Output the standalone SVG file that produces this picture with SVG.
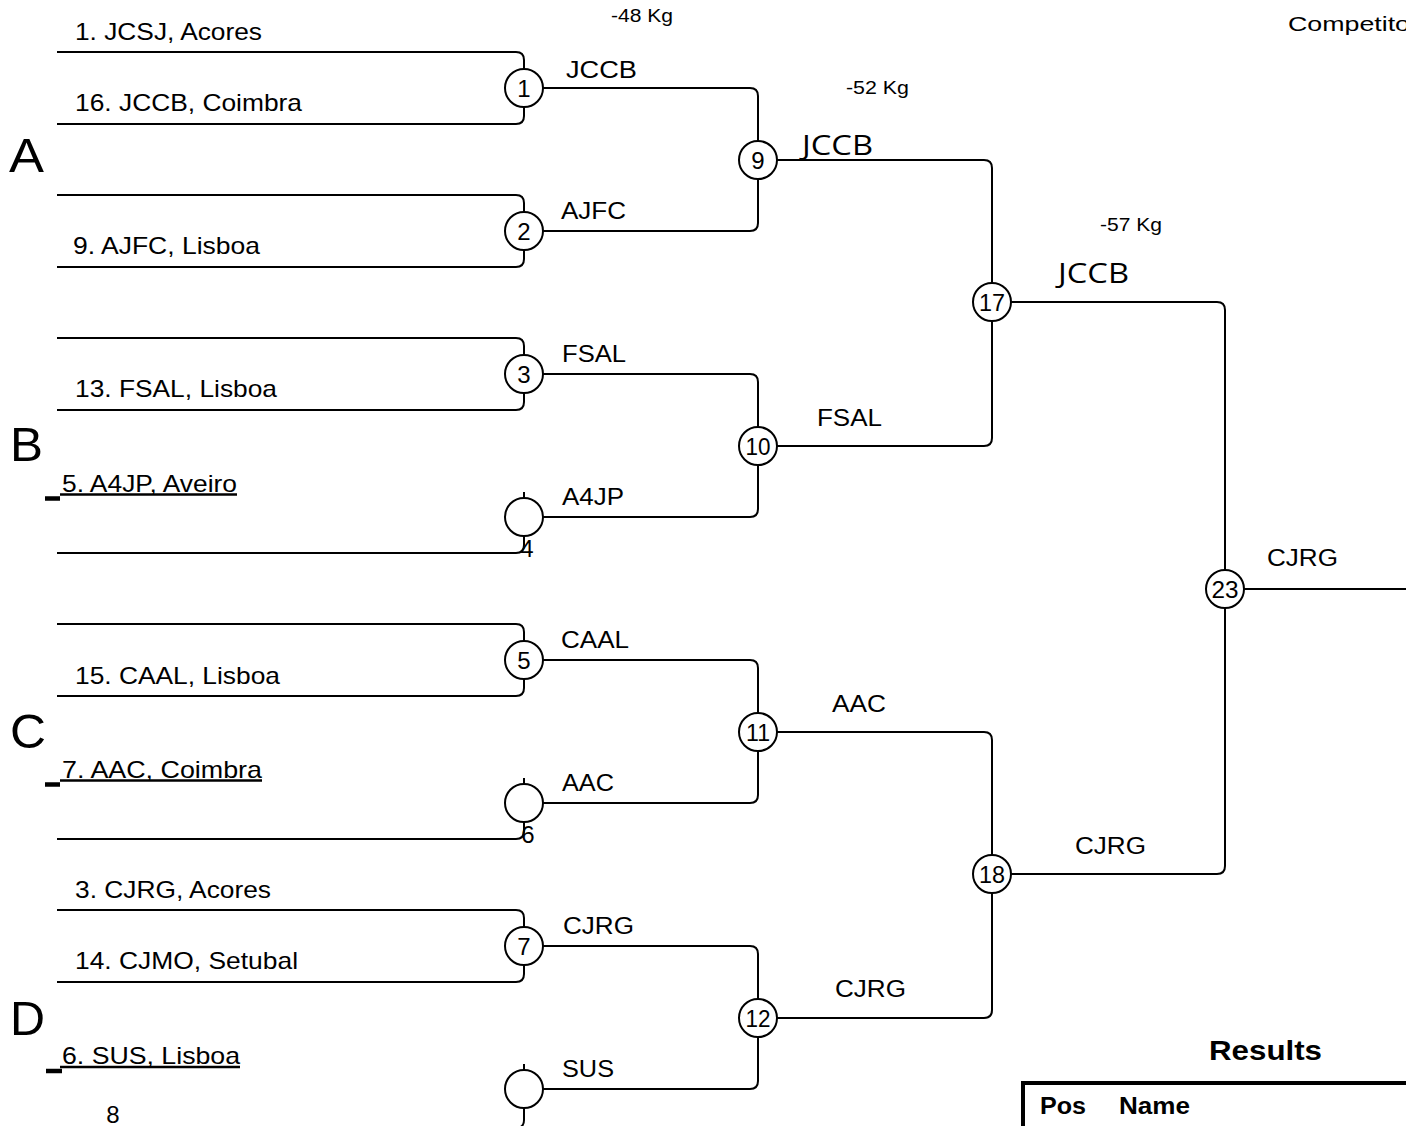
<svg xmlns="http://www.w3.org/2000/svg" width="1406" height="1126" viewBox="0 0 1406 1126">
<style>
.ln{fill:none;stroke:#000;stroke-width:2}
.c{fill:#fff;stroke:#000;stroke-width:2}
text{font-family:"Liberation Sans",Arial,sans-serif;fill:#000}
.ent{font-size:24px}
.lab{font-size:23px}
.num{font-size:24px;text-anchor:middle}
.big{font-family:"Open Sans","Noto Sans",sans-serif;font-size:28px}
.wt{font-size:18px}
.sec{font-size:48px}
.ul{stroke:#000;stroke-width:2.5}
.ulk{stroke:#000;stroke-width:4.5}
.bold{font-weight:bold}
</style>
<rect width="1406" height="1126" fill="#fff"/>
<g id="connectors">
<path class="ln" d="M57,52 H516 Q524,52 524,60 V69 M57,124 H516 Q524,124 524,116 V107"/>
<path class="ln" d="M57,195 H516 Q524,195 524,203 V212 M57,267 H516 Q524,267 524,259 V250"/>
<path class="ln" d="M57,338 H516 Q524,338 524,346 V355 M57,410 H516 Q524,410 524,402 V393"/>
<path class="ln" d="M524,492 V498 M57,553 H516 Q524,553 524,545 V536"/>
<path class="ln" d="M57,624 H516 Q524,624 524,632 V641 M57,696 H516 Q524,696 524,688 V679"/>
<path class="ln" d="M524,778 V784 M57,839 H516 Q524,839 524,831 V822"/>
<path class="ln" d="M57,910 H516 Q524,910 524,918 V927 M57,982 H516 Q524,982 524,974 V965"/>
<path class="ln" d="M524,1064 V1070 M57,1128 H516 Q524,1128 524,1120 V1108"/>
<path class="ln" d="M543,88 H750 Q758,88 758,96 V141 M543,231 H750 Q758,231 758,223 V179"/>
<path class="ln" d="M543,374 H750 Q758,374 758,382 V427 M543,517 H750 Q758,517 758,509 V465"/>
<path class="ln" d="M543,660 H750 Q758,660 758,668 V713 M543,803 H750 Q758,803 758,795 V751"/>
<path class="ln" d="M543,946 H750 Q758,946 758,954 V999 M543,1089 H750 Q758,1089 758,1081 V1037"/>
<path class="ln" d="M777,160 H984 Q992,160 992,168 V283 M777,446 H984 Q992,446 992,438 V321"/>
<path class="ln" d="M777,732 H984 Q992,732 992,740 V855 M777,1018 H984 Q992,1018 992,1010 V893"/>
<path class="ln" d="M1011,302 H1217 Q1225,302 1225,310 V570 M1011,874 H1217 Q1225,874 1225,866 V608"/>
<path class="ln" d="M1244,589 H1406"/>
</g>
<g id="titles">
<text class="wt" x="611" y="22" textLength="62" lengthAdjust="spacingAndGlyphs">-48 Kg</text>
<text class="wt" x="846" y="94" textLength="63" lengthAdjust="spacingAndGlyphs">-52 Kg</text>
<text class="wt" x="1100" y="231" textLength="62" lengthAdjust="spacingAndGlyphs">-57 Kg</text>
<text x="1288" y="31" style="font-size:21px" textLength="122" lengthAdjust="spacingAndGlyphs">Competito</text>
</g>
<g id="sections">
<text class="sec" x="9" y="172" textLength="35" lengthAdjust="spacingAndGlyphs">A</text>
<text class="sec" x="10" y="461" textLength="33" lengthAdjust="spacingAndGlyphs">B</text>
<text class="sec" x="10" y="748" textLength="36" lengthAdjust="spacingAndGlyphs">C</text>
<text class="sec" x="10" y="1035" textLength="35" lengthAdjust="spacingAndGlyphs">D</text>
</g>
<g id="entrants">
<text class="ent" x="75" y="40" textLength="187" lengthAdjust="spacingAndGlyphs">1. JCSJ, Acores</text>
<text class="ent" x="75" y="111" textLength="227" lengthAdjust="spacingAndGlyphs">16. JCCB, Coimbra</text>
<text class="ent" x="73" y="254" textLength="187" lengthAdjust="spacingAndGlyphs">9. AJFC, Lisboa</text>
<text class="ent" x="75" y="397" textLength="202" lengthAdjust="spacingAndGlyphs">13. FSAL, Lisboa</text>
<g id="e-a4jp">
<text class="ent" x="62" y="492" textLength="175" lengthAdjust="spacingAndGlyphs">5. A4JP, Aveiro</text>
<line class="ul" x1="60" y1="494.5" x2="237" y2="494.5"/>
<line class="ulk" x1="45" y1="498.5" x2="60" y2="498.5"/>
</g>
<text class="ent" x="75" y="684" textLength="205" lengthAdjust="spacingAndGlyphs">15. CAAL, Lisboa</text>
<g id="e-aac">
<text class="ent" x="62" y="778" textLength="200" lengthAdjust="spacingAndGlyphs">7. AAC, Coimbra</text>
<line class="ul" x1="60" y1="780.5" x2="262" y2="780.5"/>
<line class="ulk" x1="45" y1="784.5" x2="60" y2="784.5"/>
</g>
<text class="ent" x="75" y="898" textLength="196" lengthAdjust="spacingAndGlyphs">3. CJRG, Acores</text>
<text class="ent" x="75" y="969" textLength="223" lengthAdjust="spacingAndGlyphs">14. CJMO, Setubal</text>
<g id="e-sus">
<text class="ent" x="62" y="1064" textLength="178" lengthAdjust="spacingAndGlyphs">6. SUS, Lisboa</text>
<line class="ul" x1="60" y1="1067" x2="240" y2="1067"/>
<line class="ulk" x1="46" y1="1071" x2="62" y2="1071"/>
</g>
</g>
<g id="labels">
<text class="lab" x="566" y="78" textLength="71" lengthAdjust="spacingAndGlyphs">JCCB</text>
<text class="lab" x="561" y="219" textLength="65" lengthAdjust="spacingAndGlyphs">AJFC</text>
<text class="lab" x="562" y="362" textLength="64" lengthAdjust="spacingAndGlyphs">FSAL</text>
<text class="lab" x="562" y="505" textLength="62" lengthAdjust="spacingAndGlyphs">A4JP</text>
<text class="lab" x="561" y="648" textLength="68" lengthAdjust="spacingAndGlyphs">CAAL</text>
<text class="lab" x="562" y="791" textLength="52" lengthAdjust="spacingAndGlyphs">AAC</text>
<text class="lab" x="563" y="934" textLength="71" lengthAdjust="spacingAndGlyphs">CJRG</text>
<text class="lab" x="562" y="1077" textLength="52" lengthAdjust="spacingAndGlyphs">SUS</text>
<text class="big" x="802" y="155" textLength="71" lengthAdjust="spacingAndGlyphs">JCCB</text>
<text class="lab" x="817" y="426" textLength="65" lengthAdjust="spacingAndGlyphs">FSAL</text>
<text class="lab" x="832" y="712" textLength="54" lengthAdjust="spacingAndGlyphs">AAC</text>
<text class="lab" x="835" y="997" textLength="71" lengthAdjust="spacingAndGlyphs">CJRG</text>
<text class="big" x="1058" y="283" textLength="71" lengthAdjust="spacingAndGlyphs">JCCB</text>
<text class="lab" x="1075" y="854" textLength="71" lengthAdjust="spacingAndGlyphs">CJRG</text>
<text class="lab" x="1267" y="566" textLength="71" lengthAdjust="spacingAndGlyphs">CJRG</text>
</g>
<g id="m1"><circle class="c" cx="524" cy="88" r="19"/><text class="num" x="524" y="97">1</text></g>
<g id="m2"><circle class="c" cx="524" cy="231" r="19"/><text class="num" x="524" y="240">2</text></g>
<g id="m3"><circle class="c" cx="524" cy="374" r="19"/><text class="num" x="524" y="383">3</text></g>
<g id="m4"><circle class="c" cx="524" cy="517" r="19"/><text class="num" x="527" y="557">4</text></g>
<g id="m5"><circle class="c" cx="524" cy="660" r="19"/><text class="num" x="524" y="669">5</text></g>
<g id="m6"><circle class="c" cx="524" cy="803" r="19"/><text class="num" x="528" y="843">6</text></g>
<g id="m7"><circle class="c" cx="524" cy="946" r="19"/><text class="num" x="524" y="955">7</text></g>
<g id="m8"><circle class="c" cx="524" cy="1089" r="19"/><text class="num" x="113" y="1123">8</text></g>
<g id="m9"><circle class="c" cx="758" cy="160" r="19"/><text class="num" x="758" y="169">9</text></g>
<g id="m10"><circle class="c" cx="758" cy="446" r="19"/><text class="num" x="758" y="455" textLength="25" lengthAdjust="spacingAndGlyphs">10</text></g>
<g id="m11"><circle class="c" cx="758" cy="732" r="19"/><text class="num" x="758" y="741" textLength="24" lengthAdjust="spacingAndGlyphs">11</text></g>
<g id="m12"><circle class="c" cx="758" cy="1018" r="19"/><text class="num" x="758" y="1027" textLength="25" lengthAdjust="spacingAndGlyphs">12</text></g>
<g id="m17"><circle class="c" cx="992" cy="302" r="19"/><text class="num" x="992" y="311" textLength="26" lengthAdjust="spacingAndGlyphs">17</text></g>
<g id="m18"><circle class="c" cx="992" cy="874" r="19"/><text class="num" x="992" y="883" textLength="26" lengthAdjust="spacingAndGlyphs">18</text></g>
<g id="m23"><circle class="c" cx="1225" cy="589" r="19"/><text class="num" x="1225" y="598" textLength="27" lengthAdjust="spacingAndGlyphs">23</text></g>
<g id="results">
<text class="bold" x="1209" y="1060" style="font-size:28px" textLength="113" lengthAdjust="spacingAndGlyphs">Results</text>
<path d="M1023,1130 V1083 H1410" fill="none" stroke="#000" stroke-width="4"/>
<text class="bold" x="1040" y="1114" style="font-size:23px" textLength="46" lengthAdjust="spacingAndGlyphs">Pos</text>
<text class="bold" x="1119" y="1114" style="font-size:23px" textLength="71" lengthAdjust="spacingAndGlyphs">Name</text>
</g>
</svg>
